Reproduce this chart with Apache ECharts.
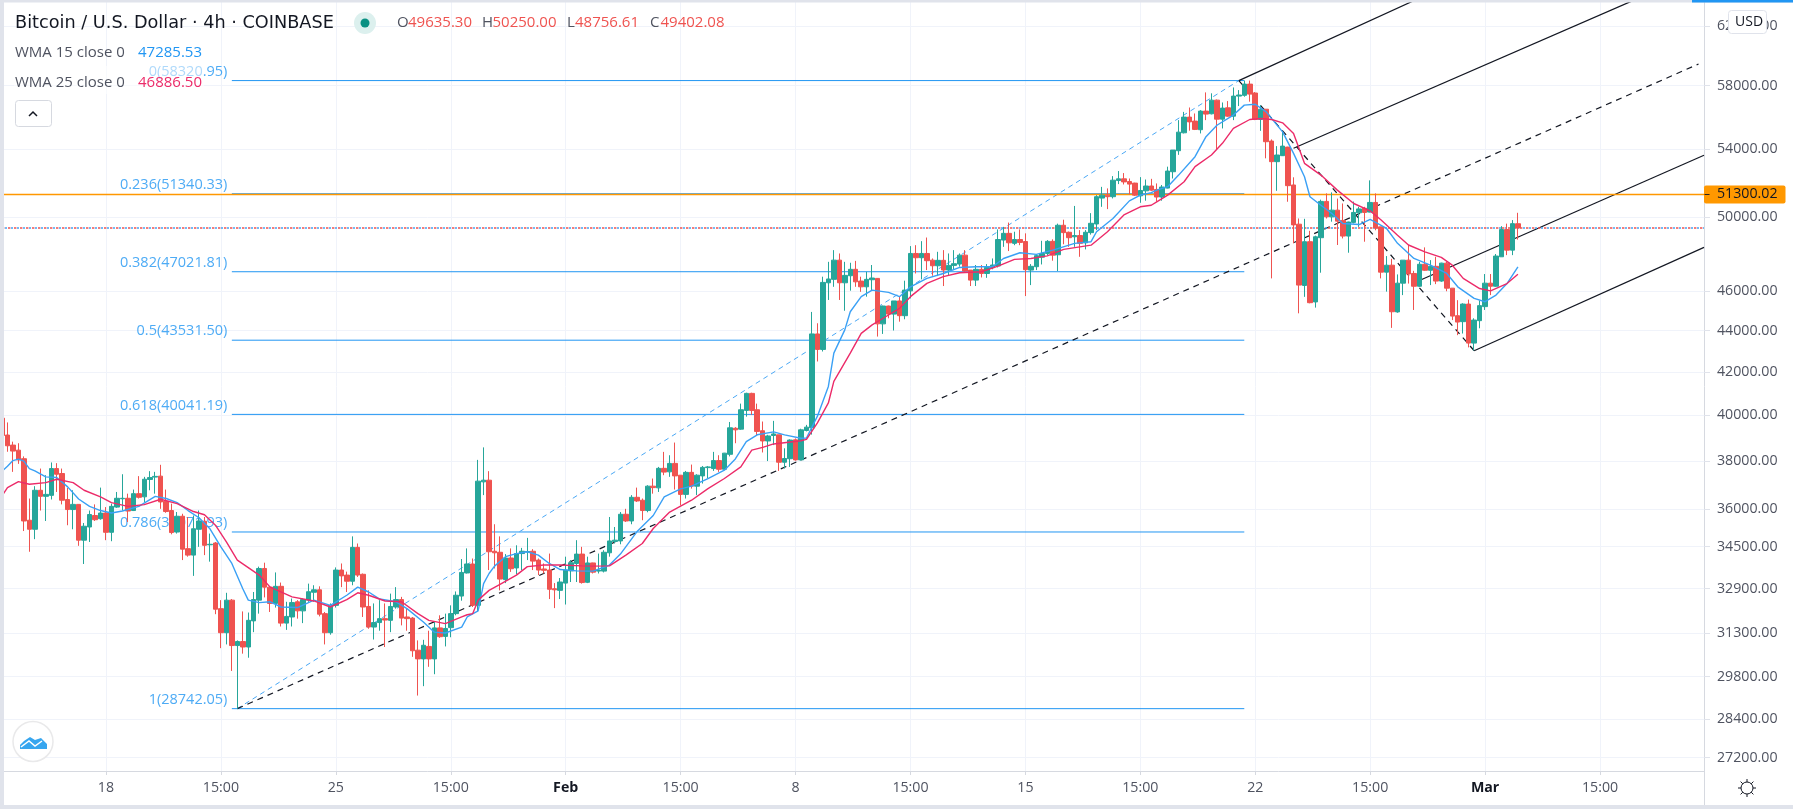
<!DOCTYPE html>
<html><head><meta charset="utf-8"><title>Bitcoin / U.S. Dollar</title>
<style>html,body{margin:0;padding:0;background:#fff}#c{width:1793px;height:809px}</style>
<script src="https://cdn.jsdelivr.net/npm/echarts@6/dist/echarts.min.js"></script></head>
<body><div id="c"></div><script>
// [open, high, low, close]
const barsA=[[39870,39870,39100,39100],[39120,39680,38390,38650],[38680,38830,37530,38420],[38460,38760,37870,38040],[38090,38190,35110,35510],[35540,36420,34300,35180],[35180,36930,34790,36760],[36760,37670,35930,36510],[36510,37390,35510,36590],[36550,37930,36380,37670],[37670,37900,36690,37430],[37460,37670,36180,36350],[36380,36860,35340,35970],[35970,36760,35180,36180],[36180,36180,34530,34750],[34750,35430,33830,35300],[35270,35930,34680,35770],[35730,36180,35510,35560],[35600,36870,35560,35830],[35830,36070,34750,35060],[35060,36210,34710,36100],[36070,36690,36040,36430],[36410,37430,35930,36430],[36430,36620,35470,35910],[35930,36790,35910,36620],[36620,37350,36420,36470],[36490,37320,36280,37220],[37210,37560,36760,37290],[37310,37530,36620,37340],[37350,37830,36000,36280],[36310,36790,35840,35890],[35930,36210,34980,35050],[35070,35870,35010,35700],[35700,35800,33980,34400],[34420,35670,34110,34170],[34170,35730,33380,35200],[35180,35930,34490,35510],[35500,35670,34170,34550],[34570,35010,33920,34590],[34640,34680,31970,32150],[32170,32480,30770,31310],[31310,32750,30900,32480]];
const barsB=[[32480,32520,29990,30860],[30860,31040,28740,31000],[31000,32070,30580,30810],[30810,32030,30440,31750],[31730,32780,31330,32500],[32480,33730,31990,33660],[33660,33880,32580,32960],[32960,32990,32050,32360],[32360,33510,32210,32990],[32990,33130,31530,31650],[31650,32420,31410,31890],[31870,32540,31530,32390],[32420,32480,31810,32090],[32090,32540,31650,32500],[32480,33090,32420,32790],[32770,33030,32420,32860],[32860,32990,31890,31970],[31990,32050,30900,31310],[31310,32360,31240,32290],[32290,33700,32210,33600],[33600,33850,32960,33380],[33410,33540,32780,33180],[33180,34900,33030,34470],[34470,34620,33340,33410],[33440,33470,31870,32230],[32250,32840,31450,31510],[31510,32360,31070,31670],[31670,32480,31380,31810],[31810,32360,30810,31760],[31750,32720,31330,32250],[32230,32960,32170,32500],[32500,32600,31570,31830],[31870,32170,31380,31810],[31830,31870,30470,30680],[30700,31040,29170,30400],[30400,31060,29480,30870],[30830,31380,30130,30400],[30400,31690,29880,31480],[31480,31930,31130,31170],[31180,31990,30830,31460]];
const barsC=[[31490,32290,31150,31990],[31990,32800,31930,32660],[32630,34020,32460,33510],[33490,34430,33470,33830],[33830,34040,32230,32290],[32290,38040,32050,37140],[37110,38580,36560,37180],[37180,37560,33600,34300],[34320,35380,33660,34260],[34280,34900,32840,33260],[33240,34210,33110,34060],[34060,34430,33530,33650],[33680,34550,33440,34230],[34230,34450,33600,34320],[34290,34840,33980,34310],[34320,34400,33600,33940],[33980,34040,33410,33600],[33640,33850,33470,33590],[33600,34230,32520,32880],[32900,33110,32190,32860],[32840,33300,32520,33150],[33110,34110,32320,33600],[33570,33980,33150,33880],[33850,34750,33150,34210],[34210,34490,33090,33130],[33140,34110,33110,33870],[33870,33880,33470,33520],[33560,34230,33470,33600],[33560,34360,33510,34280],[34260,35670,34110,34720],[34700,35270,34620,34750],[34720,35870,34590,35780],[35780,36000,35470,35510],[35510,36560,35380,36470],[36470,36870,36280,36320],[36350,36420,35540,35930],[35930,36970,35860,36930],[36930,37250,36620,36870]];
const barsD=[[36860,37740,36690,37680],[37680,38385,37390,37520],[37530,38240,37320,37890],[37890,38790,36790,37360],[37390,37390,36140,36590],[36590,37570,36420,37510],[37510,37840,36830,36930],[36930,37430,36560,37390],[37360,37780,37040,37720],[37710,37780,37250,37740],[37670,38385,37570,38010],[38010,38240,37530,37640],[37640,38340,37600,38330],[38280,39700,38190,39440],[39420,39470,38760,39350],[39380,40530,39350,40250],[40220,41030,39940,41000],[41000,41030,40020,40220],[40250,40530,39090,39280],[39310,39720,38360,38860],[38860,39130,37990,39080],[39100,39750,38680,39170],[39130,39130,37570,37940],[37940,38540,37670,38100],[38090,38930,37740,38900],[38910,38970,38010,38040],[38040,39400,38010,39350],[39320,39570,39280,39470]];
const barsE=[[39440,44940,39140,43840],[43840,44370,42500,43080],[43080,46760,42980,46460],[46440,47550,45550,46640],[46620,48180,46230,47640],[47640,48000,45550,46440],[46440,47550,45000,46830],[46810,47500,46030,47150],[47150,47600,46230,46490],[46530,46760,45970,46230],[46230,47020,45720,46620],[46600,47380,46060,46690],[46670,46690,43710,44340],[44340,45260,43840,45240],[45240,45260,44620,44830],[44830,45500,44010,45500],[45500,45750,44450,44750],[44750,46550,44570,46060],[46020,48400,45630,48000],[48000,48450,46930,47770],[47770,48670,46620,48000],[48000,48870,47110,47610],[47640,47730,46810,47340],[47340,48090,46790,47630],[47630,48180,46270,47110],[47110,48000,46850,47360]];
const barsF=[[47360,48180,47110,47450],[47430,48000,47290,47910],[47910,48180,47020,47060],[47110,47110,46270,46580],[46580,47380,46270,47150],[47150,47380,46720,46930],[46930,47430,46700,47250],[47240,47730,47150,47380],[47330,49320,47250,48760],[48730,49460,48360,49100],[49100,49700,48130,48580],[48550,49190,48450,48760],[48760,49320,48450,48600],[48650,49100,45750,47130],[47110,47430,46320,47310],[47290,47960,47110,47880],[47800,48690,47410,48000],[48000,48730,47910,48660],[48660,48770,47610,47910],[47930,49640,47060,49550],[49550,49860,48500,49140],[49160,49200,48360,48860],[48910,50640,48360,48980],[48980,49280,47820,48550],[48580,49280,48220,49160],[49140,50230,49030,49660],[49620,51260,49280,51170]];
const barsG=[[51090,51740,50590,51260],[51260,51650,50460,51170],[51170,52370,51070,52130],[52110,52670,51900,52210],[52210,52550,51880,52030],[52050,52230,51300,51900],[51960,51980,51210,51260],[51220,52310,50820,51530],[51510,52170,50940,51790],[51790,52210,51510,51550],[51590,51940,50880,51150],[51150,51850,50940,51730],[51670,52930,51650,52670],[52630,53930,52230,53930],[53890,55780,53640,55030],[54990,56300,54950,55970],[55970,56580,55120,55670],[55720,56200,55160,55200],[55180,56410,54950,56350],[56350,57550,55780,56160],[56180,57490,56140,57050],[57050,57090,53970,55840],[55840,56900,55260,56540],[56560,56990,55990,56030],[56030,57870,55780,57310],[57310,57700,56670,57380],[57360,58320,57270,58090],[58090,58320,56950,57440],[57510,57570,55780,55820]];
const barsH=[[55820,56730,55110,56470],[56470,56470,53430,54440],[54480,54580,46670,53230],[53230,54170,51510,53630],[53590,55090,53570,54170],[54110,54130,50880,51810],[51850,52300,48550,49570],[49610,49930,44870,46320],[46300,49910,45710,48640],[48640,49240,45380,45410],[45450,48970,45160,48910],[48860,51000,46970,50900],[50900,51360,49930,50020],[50020,51420,49750,50400],[50400,51060,48460,49780],[49820,50780,48820,48950],[48950,49750,48040,49730],[49710,50890,49650,50270],[50250,50590,49460,50470],[50510,50590,48640,50270],[50290,52120,50270,50840],[50840,51360,49270,49400],[49460,49460,46670,47000],[47000,47860,45980,47370],[47370,47710,44140,44950],[44940,46880,44900,46420],[46420,47640,45800,47640],[47640,48460,46400,46900],[46930,47070,45040,46260],[46260,47550,46230,47420],[47420,48330,47070,47100],[47100,47640,46320,47310],[47310,47820,46370,46530],[46530,47500,46490,47480],[47480,47550,46000,46160],[46160,46160,44530,44730],[44750,45540,43780,44430],[44450,45380,43860,45340],[45340,45570,43180,43390],[43390,44620,43030,44530],[44500,45520,44120,45260],[45210,46900,45040,46420],[46420,46900,45800,46260],[46260,47970,46230,47860],[47820,49500,47820,49310],[49310,49640,47910,48180],[48180,49840,47910,49640],[49635.30,50250,48756.61,49402.08]];

// [bar number, value]
const wma15=[[0,37560],[1,37770],[2,38010],[3,38070],[4,37990],[5,37670],[6,37570],[8,37320],[10,37290],[12,36900],[14,36400],[16,36100],[18,35930],[20,35830],[22,35910],[25,36100],[28,36510],[30,36420],[32,36250],[34,35930],[36,35640],[38,35200],[40,34490],[42,33850],[44,32900],[45,32480],[47,32390],[49,32420],[51,32230],[54,32210],[57,32480],[60,32290],[63,32660],[65,32960],[67,32780],[69,32520],[72,32420],[74,32170],[77,31690],[79,31330],[81,31300],[84,31510],[85,31870],[87,32090],[88,33090],[89,33470],[90,33750],[92,34110],[94,34230],[96,34300],[98,34170],[100,33850],[102,33620],[105,33570],[108,33560],[111,33790],[113,34210],[116,35080],[119,35730],[121,36490],[124,36820],[126,36930],[129,37250],[132,37600],[134,38080],[136,38830],[138,39130],[141,39260],[143,39130],[146,38980],[147,38990],[149,39960],[151,41320],[152,42900],[154,44040],[155,44950],[157,45720],[159,46060],[162,45940],[164,45720],[166,46230],[169,46670],[172,46930],[175,47250],[178,47290],[181,47290],[183,47730],[186,48040],[189,47950],[192,48180],[196,48550],[199,48640],[200,49190],[203,49930],[206,50930],[208,51260],[210,51400],[211,51550],[213,51750],[215,52430],[218,53530],[220,54750],[222,55460],[225,56100],[227,56730],[229,56790],[231,56300],[234,55050],[236,53730],[238,52330],[239,51170],[241,50680],[243,50210],[245,49650],[248,49590],[250,49880],[253,49370],[255,48550],[258,47730],[261,47370],[264,46930],[266,46230],[269,45630],[271,45460],[273,45800],[275,46400],[277,47285.53]];
const wma25=[[0,36530],[1,36870],[3,37120],[5,37010],[8,37080],[10,37220],[13,37080],[15,36760],[18,36490],[20,36250],[23,36100],[26,36170],[29,36390],[32,36210],[35,35890],[37,35760],[39,35340],[41,34680],[43,33980],[47,33410],[49,32960],[53,32600],[57,32450],[60,32230],[63,32500],[65,32750],[67,32660],[70,32450],[73,32420],[76,31990],[78,31750],[81,31630],[84,31870],[85,31950],[86,31990],[87,32480],[89,32840],[91,33060],[94,33410],[96,33730],[99,33790],[102,33790],[106,33760],[108,33750],[111,33760],[114,34170],[117,34620],[119,35210],[122,35870],[126,36350],[129,36830],[132,37250],[135,37740],[137,38460],[139,38580],[141,38730],[146,38870],[147,38930],[149,39660],[151,40560],[152,41560],[155,42900],[157,43870],[159,44290],[161,44620],[164,45120],[166,45720],[169,46410],[172,46760],[175,46970],[179,47020],[182,47320],[185,47680],[188,47730],[191,47870],[194,48220],[199,48450],[202,49190],[205,50130],[208,50590],[210,50680],[211,50870],[213,51260],[216,52040],[218,52930],[221,53630],[223,54340],[225,55260],[228,55820],[230,55880],[232,55820],[234,55610],[236,54950],[238,53130],[241,52430],[244,51550],[247,50780],[250,50360],[252,49840],[255,49000],[257,48460],[260,48090],[263,47790],[265,47370],[267,46670],[270,46140],[272,46020],[275,46400],[277,46886.50]];

const fibLevels=[58320.95,51340.33,47021.81,43531.50,40041.19,35071.93,28742.05];
const fibLabels=['0(58320.95)','0.236(51340.33)','0.382(47021.81)','0.5(43531.50)','0.618(40041.19)','0.786(35071.93)','1(28742.05)'];
const fibFrom=42, fibTo=227;
const fibTrend=[[43,28742.05],[226,58320.95]];
const forkMedian=[[43,28742.05],[310,59420]];
const forkHandle=[[226,58320.95],[269,43020]];
const forkUpper=[[226,58320.95],[259,64000]];
const forkUpperMid=[[236,54040],[298,63820]];
const forkLowerMid=[[259,46560],[311,53620]];
const forkLower=[[269,43020],[311,48330]];
const markedLevel=51300.02;
const lastClose=49402.08;
const yTicks=[27200,28400,29800,31300,32900,34500,36000,38000,40000,42000,44000,46000,50000,54000,58000,62000];
const yMin=26793, yMax=63720;
const barCount=312;
const timeTicks=[[19,'18'],[40,'15:00'],[61,'25'],[82,'15:00'],[103,'Feb'],[124,'15:00'],[145,'8'],[166,'15:00'],[187,'15'],[208,'15:00'],[229,'22'],[250,'15:00'],[271,'Mar'],[292,'15:00']];

const ohlc=[...barsA,...barsB,...barsC,...barsD,...barsE,...barsF,...barsG,...barsH];
const tickMap=new Map(timeTicks);
const categories=Array.from({length:barCount},(_,i)=>tickMap.get(i)||String(i));
const isTick=i=>tickMap.has(i);
const FONT='"Open Sans","Liberation Sans",Arial,sans-serif';
const BLUE='#2196f3',GRID='#f0f3fa',EDGE='#d6d9e0',BAND='#e0e3eb',TEXT='#4f5360';

function seg(name,data,color,type,width,z,extra){return {name,type:'line',data,symbol:'none',silent:true,animation:false,z:z||1,
  lineStyle:Object.assign({color,type:type||'solid',width:width||1},extra||{}),clip:true};}
const series=[];
fibLevels.forEach((v,i)=>series.push(seg('fib'+i,[[fibFrom,v],[fibTo,v]],BLUE)));
series.push({type:'scatter',name:'fibLabels',z:1,symbolSize:1,silent:true,animation:false,itemStyle:{color:'rgba(0,0,0,0)'},
  data:fibLevels.map((v,i)=>({value:[fibFrom,v],label:{formatter:fibLabels[i]}})),
  label:{show:true,position:'left',distance:4,offset:[0,-9],color:BLUE,fontSize:14.5,fontFamily:FONT}});
series.push(seg('trend',fibTrend,'#4aa8f5',[5,4]));
series.push(seg('median',forkMedian,'#131722',[6,5],1.2));
series.push(seg('handle',forkHandle,'#131722',[6,5],1.2));
series.push(seg('upper',forkUpper,'#131722','solid',1.2));
series.push(seg('upperMid',forkUpperMid,'#131722','solid',1.2));
series.push(seg('lowerMid',forkLowerMid,'#131722','solid',1.2));
series.push(seg('lower',forkLower,'#131722','solid',1.2));
series.push(seg('lastB',[[0,lastClose],[barCount-1,lastClose]],'#42a5f5',[2,4],1.5,1,{dashOffset:3}));
series.push(seg('lastR',[[0,lastClose],[barCount-1,lastClose]],'#ef5350',[2.4,3.6],1.5));
const marked=seg('level',[[0,markedLevel],[barCount-1,markedLevel]],'#ff9800','solid',1.5);
marked.endLabel={show:true,distance:0,formatter:'{d|–}{v|51300.02}',backgroundColor:'#ff9800',borderRadius:2,padding:[2,8,2,0],
  rich:{d:{width:13,color:'#131722',fontSize:12,fontFamily:FONT,align:'left'},v:{color:'#131722',fontSize:14.2,fontFamily:FONT}}};
series.push(marked);
series.push({type:'candlestick',name:'BTCUSD',z:3,animation:false,silent:true,barWidth:5,
  data:ohlc.map(b=>[b[0],b[3],b[2],b[1]]),
  itemStyle:{color:'#26a69a',color0:'#ef5350',borderColor:'#26a69a',borderColor0:'#ef5350',borderWidth:1}});
series.push(seg('WMA 15',wma15,'#3aa0f5','solid',1.4,4));
series.push(seg('WMA 25',wma25,'#ec2b69','solid',1.4,4));

function T(x,y,text,fill,size,font){return {type:'text',z:120,silent:true,style:{x,y,text,fill,font:(size||15)+'px '+(font||FONT),textVerticalAlign:'middle'}};}
function L(x1,y1,x2,y2,stroke,z,w){return {type:'line',z:z||120,silent:true,shape:{x1,y1,x2,y2},style:{stroke,lineWidth:w||1}};}
const g=[];
g.push({type:'rect',z:110,silent:true,shape:{x:14,y:66,width:190,height:28},style:{fill:'rgba(255,255,255,0.55)'}});
g.push({type:'rect',z:130,silent:true,shape:{x:0,y:0,width:4,height:809},style:{fill:BAND}});
g.push({type:'rect',z:130,silent:true,shape:{x:0,y:0,width:1793,height:2.5},style:{fill:BAND}});
g.push({type:'rect',z:131,silent:true,shape:{x:1692,y:0,width:101,height:2.5},style:{fill:BLUE}});
g.push({type:'rect',z:130,silent:true,shape:{x:0,y:805,width:1793,height:4},style:{fill:BAND}});
g.push(L(1704.5,771,1704.5,805,EDGE,130));
g.push(T(15,23,'Bitcoin / U.S. Dollar · 4h · COINBASE','#131722',17.7,'"DejaVu Sans",sans-serif'));
g.push({type:'circle',z:120,silent:true,shape:{cx:365,cy:23,r:11},style:{fill:'#dcf0ee'}});
g.push({type:'circle',z:121,silent:true,shape:{cx:365,cy:23,r:4.5},style:{fill:'#0a9183'}});
[[397,'O','49635.30'],[482,'H','50250.00'],[567,'L','48756.61'],[650,'C','49402.08']].forEach(o=>{
  g.push(T(o[0],23,o[1],TEXT,15));
  g.push(T(o[0]+(o[1]==='L'?8:o[1]==='O'?11:10.5),23,o[2],'#ef5350',15));
});
g.push(T(15,53,'WMA 15 close 0',TEXT,15));
g.push(T(138,53,'47285.53',BLUE,15));
g.push(T(15,83,'WMA 25 close 0',TEXT,15));
g.push(T(138,83,'46886.50','#ec2b69',15));
g.push({type:'rect',z:120,silent:true,shape:{x:15.5,y:100.5,width:36,height:26,r:3},style:{fill:'#fff',stroke:EDGE,lineWidth:1}});
g.push({type:'polyline',z:121,silent:true,shape:{points:[[29,116],[33,112],[37,116]]},style:{stroke:'#131722',lineWidth:1.5,fill:null}});
g.push({type:'rect',z:120,silent:true,shape:{x:1728.5,y:10.5,width:38,height:23,r:3},style:{fill:'#fff',stroke:BAND,lineWidth:1}});
g.push(T(1735,22.5,'USD','#131722',14));
g.push({type:'circle',z:120,silent:true,shape:{cx:33,cy:741.5,r:20},style:{fill:'#fff',stroke:'#e9e9ea',lineWidth:1.5}});
g.push({type:'polygon',z:121,silent:true,shape:{points:[[20,749],[20,745],[24,741],[30,737],[35,740],[41,738],[47,744],[47,749]]},style:{fill:'#37a6ef'}});
g.push({type:'polyline',z:122,silent:true,shape:{points:[[21,747],[29,741],[35,746],[42,741]]},style:{stroke:'#fff',lineWidth:1.5,fill:null}});
g.push({type:'circle',z:120,silent:true,shape:{cx:1747,cy:788,r:6},style:{fill:'#fff',stroke:'#131722',lineWidth:1}});
[[1747,779,1747,782],[1747,794,1747,797],[1738,788,1741,788],[1753,788,1756,788],[1740.6,781.6,1742.8,783.8],[1751.2,792.2,1753.4,794.4],[1740.6,794.4,1742.8,792.2],[1751.2,783.8,1753.4,781.6]].forEach(s=>g.push(L(s[0],s[1],s[2],s[3],'#131722')));

const chart=echarts.init(document.getElementById('c'),null,{renderer:'canvas'});
chart.setOption({
  animation:false,backgroundColor:'#fff',
  grid:{left:2,right:89,top:2,bottom:38,containLabel:false},
  xAxis:{type:'category',data:categories,boundaryGap:false,
    axisLine:{lineStyle:{color:EDGE}},
    axisTick:{interval:isTick,length:4,lineStyle:{color:EDGE}},
    axisLabel:{interval:isTick,margin:10,color:TEXT,fontSize:14.2,fontFamily:FONT,hideOverlap:false,
      formatter:v=>(v==='Feb'||v==='Mar')?'{b|'+v+'}':v,rich:{b:{fontWeight:'bold',color:'#131722',fontSize:14.2,fontFamily:FONT}}},
    splitLine:{show:true,interval:isTick,lineStyle:{color:GRID}}},
  yAxis:{type:'log',logBase:10,position:'right',min:yMin,max:yMax,
    axisLine:{show:true,lineStyle:{color:EDGE}},
    axisTick:{show:true,length:6,customValues:yTicks,lineStyle:{color:BAND}},
    minorTick:{show:false},
    axisLabel:{customValues:yTicks,margin:13,color:TEXT,fontSize:14.2,fontFamily:FONT,formatter:v=>Number(v).toFixed(2)},
    splitLine:{show:true,lineStyle:{color:GRID}}},
  series,graphic:{elements:g}
});
</script></body></html>
